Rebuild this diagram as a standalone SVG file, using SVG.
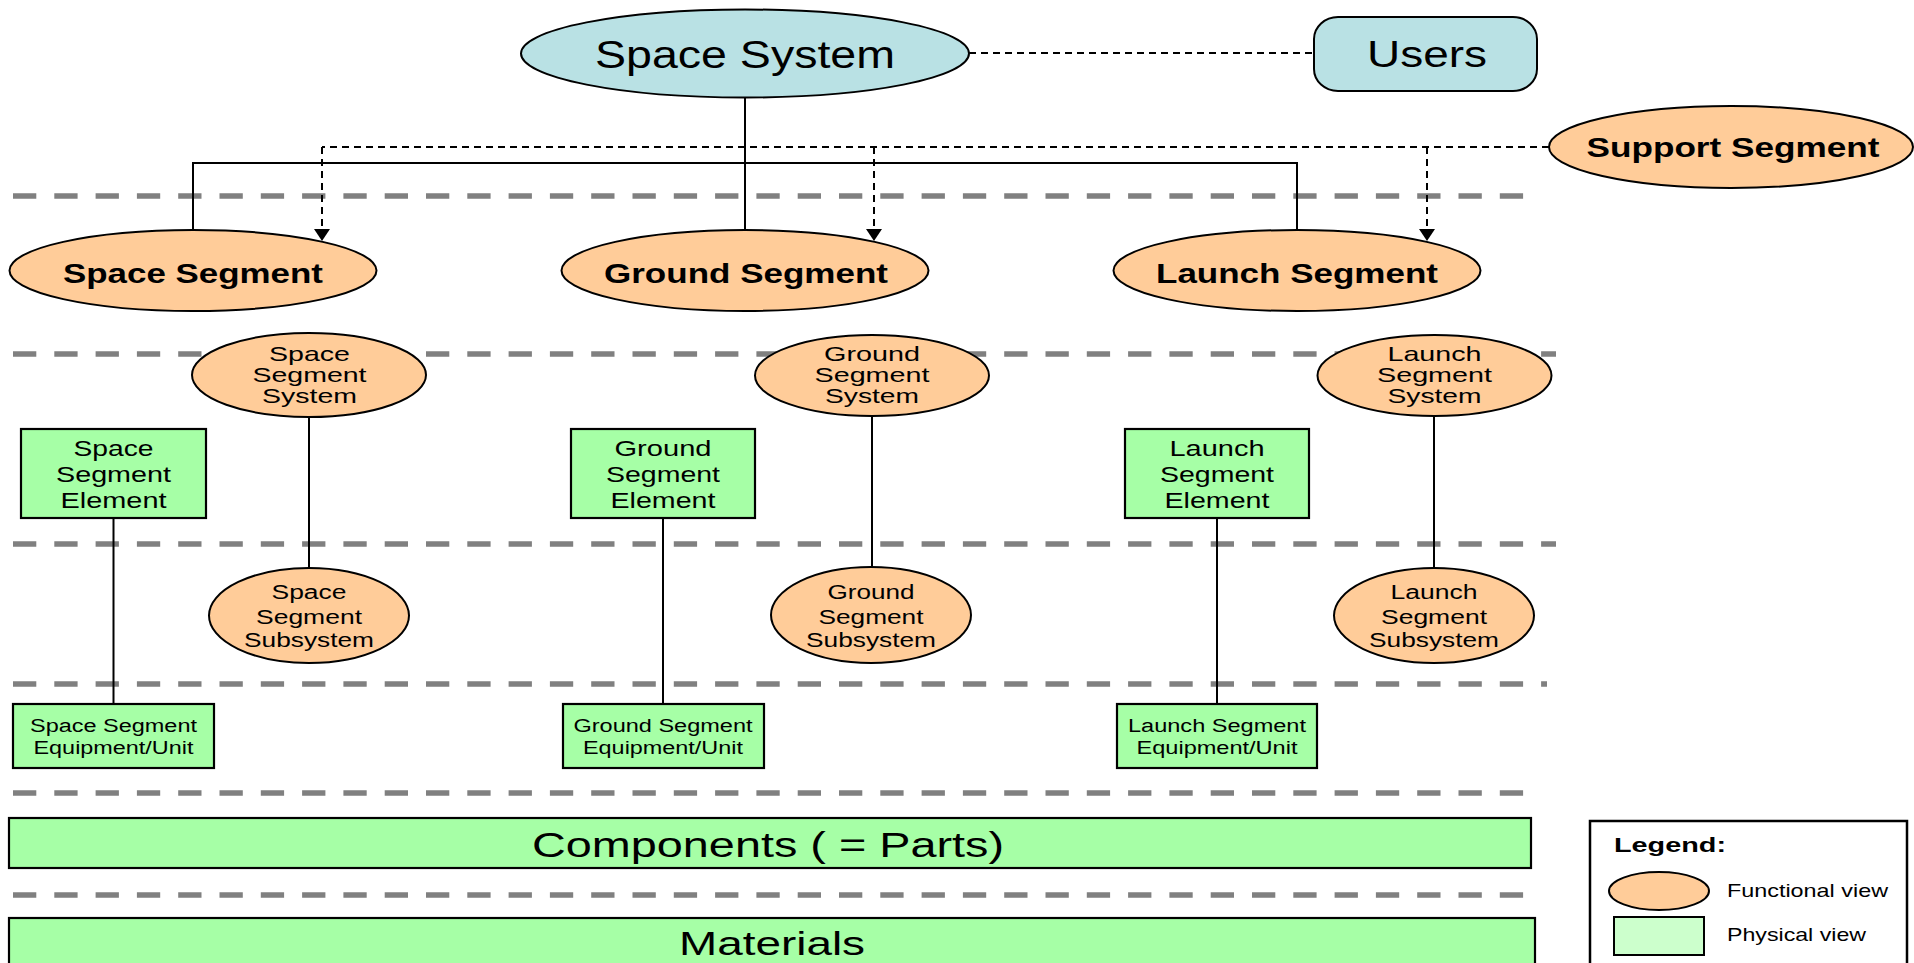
<svg xmlns="http://www.w3.org/2000/svg" width="1914" height="963" viewBox="0 0 1914 963">
<style>
text{font-family:"Liberation Sans",Arial,Helvetica,sans-serif;fill:#000;text-anchor:middle}
.b{font-weight:bold}
.fn{fill:#ffcc99;stroke:#000;stroke-width:2}
.ph{fill:#a6ffa6;stroke:#000;stroke-width:2.2}
.sy{fill:#b9e1e4;stroke:#000;stroke-width:2}
.lvl{stroke:#808080;stroke-width:5.5;stroke-dasharray:23.3 18;fill:none}
.sol{stroke:#000;stroke-width:2;fill:none}
.dot{stroke:#000;stroke-width:2;stroke-dasharray:7 5;fill:none}
.l{text-anchor:start}
</style>
<defs>
<marker id="ah" viewBox="0 0 12 16" refX="12" refY="8" markerWidth="12" markerHeight="16" markerUnits="userSpaceOnUse" orient="auto">
<path d="M0,0 L12,8 L0,16 z" fill="#000"/>
</marker>
</defs>
<rect width="1914" height="963" fill="#fff"/>
<g id="levels">
<path class="lvl" d="M13,196 H1537"/>
<path class="lvl" d="M13,354 H1556"/>
<path class="lvl" d="M13,544 H1556"/>
<path class="lvl" d="M13,684 H1547"/>
<path class="lvl" d="M13,793 H1538"/>
<path class="lvl" d="M13,895 H1535"/>
</g>
<g id="connectors">
<path class="sol" d="M745,98 V230"/>
<path class="sol" d="M193,230 V163 H1297 V230"/>
<path class="sol" d="M309,417 V568"/>
<path class="sol" d="M872,416 V567"/>
<path class="sol" d="M1434,416 V568"/>
<path class="sol" d="M113.5,518 V704"/>
<path class="sol" d="M663,518 V704"/>
<path class="sol" d="M1217,518 V704"/>
<path class="dot" d="M969,53 H1314"/>
<path class="dot" d="M1549,147 H322"/>
<path class="dot" d="M322,147 V241" marker-end="url(#ah)"/>
<path class="dot" d="M874,147 V241" marker-end="url(#ah)"/>
<path class="dot" d="M1427,147 V241" marker-end="url(#ah)"/>
</g>
<g id="space-system">
<ellipse class="sy" cx="745" cy="53.5" rx="224" ry="44"/>
<text x="745" y="68" font-size="38" textLength="300" lengthAdjust="spacingAndGlyphs">Space System</text>
</g>
<g id="users">
<rect class="sy" x="1314" y="17" width="223" height="74" rx="24" ry="22"/>
<text x="1427" y="67" font-size="36" textLength="120" lengthAdjust="spacingAndGlyphs">Users</text>
</g>
<g id="support-segment">
<ellipse class="fn" cx="1731" cy="147" rx="182" ry="41"/>
<text class="b" x="1733" y="157" font-size="28" textLength="293" lengthAdjust="spacingAndGlyphs">Support Segment</text>
</g>
<g id="space-segment">
<ellipse class="fn" cx="193" cy="270.5" rx="183.5" ry="40.5"/>
<text class="b" x="193" y="283" font-size="28" textLength="260" lengthAdjust="spacingAndGlyphs">Space Segment</text>
</g>
<g id="ground-segment">
<ellipse class="fn" cx="745" cy="270.5" rx="183.5" ry="40.5"/>
<text class="b" x="746" y="283" font-size="28" textLength="284" lengthAdjust="spacingAndGlyphs">Ground Segment</text>
</g>
<g id="launch-segment">
<ellipse class="fn" cx="1297" cy="270.5" rx="183.5" ry="40.5"/>
<text class="b" x="1297" y="283" font-size="28" textLength="282" lengthAdjust="spacingAndGlyphs">Launch Segment</text>
</g>
<g id="space-segment-system">
<ellipse class="fn" cx="309" cy="375" rx="117" ry="42"/>
<text x="309.5" y="361" font-size="21" textLength="81" lengthAdjust="spacingAndGlyphs">Space</text>
<text x="309.5" y="382" font-size="21" textLength="114" lengthAdjust="spacingAndGlyphs">Segment</text>
<text x="309.5" y="403" font-size="21" textLength="95" lengthAdjust="spacingAndGlyphs">System</text>
</g>
<g id="ground-segment-system">
<ellipse class="fn" cx="872" cy="375.5" rx="117" ry="40.5"/>
<text x="872" y="361" font-size="21" textLength="96" lengthAdjust="spacingAndGlyphs">Ground</text>
<text x="872" y="382" font-size="21" textLength="115" lengthAdjust="spacingAndGlyphs">Segment</text>
<text x="872" y="403" font-size="21" textLength="94" lengthAdjust="spacingAndGlyphs">System</text>
</g>
<g id="launch-segment-system">
<ellipse class="fn" cx="1434.5" cy="375.5" rx="117" ry="40.5"/>
<text x="1434.5" y="361" font-size="21" textLength="94" lengthAdjust="spacingAndGlyphs">Launch</text>
<text x="1434.5" y="382" font-size="21" textLength="115" lengthAdjust="spacingAndGlyphs">Segment</text>
<text x="1434.5" y="403" font-size="21" textLength="94" lengthAdjust="spacingAndGlyphs">System</text>
</g>
<g id="space-segment-element">
<rect class="ph" x="21" y="429" width="185" height="89"/>
<text x="113.5" y="456" font-size="22" textLength="80" lengthAdjust="spacingAndGlyphs">Space</text>
<text x="113.5" y="482" font-size="22" textLength="115" lengthAdjust="spacingAndGlyphs">Segment</text>
<text x="113.5" y="508" font-size="22" textLength="106" lengthAdjust="spacingAndGlyphs">Element</text>
</g>
<g id="ground-segment-element">
<rect class="ph" x="571" y="429" width="184" height="89"/>
<text x="663" y="456" font-size="22" textLength="97" lengthAdjust="spacingAndGlyphs">Ground</text>
<text x="663" y="482" font-size="22" textLength="114" lengthAdjust="spacingAndGlyphs">Segment</text>
<text x="663" y="508" font-size="22" textLength="105" lengthAdjust="spacingAndGlyphs">Element</text>
</g>
<g id="launch-segment-element">
<rect class="ph" x="1125" y="429" width="184" height="89"/>
<text x="1217" y="456" font-size="22" textLength="95" lengthAdjust="spacingAndGlyphs">Launch</text>
<text x="1217" y="482" font-size="22" textLength="114" lengthAdjust="spacingAndGlyphs">Segment</text>
<text x="1217" y="508" font-size="22" textLength="105" lengthAdjust="spacingAndGlyphs">Element</text>
</g>
<g id="space-segment-subsystem">
<ellipse class="fn" cx="309" cy="615.5" rx="100" ry="47.5"/>
<text x="309" y="599" font-size="20" textLength="75" lengthAdjust="spacingAndGlyphs">Space</text>
<text x="309" y="624" font-size="20" textLength="106" lengthAdjust="spacingAndGlyphs">Segment</text>
<text x="309" y="647" font-size="20" textLength="130" lengthAdjust="spacingAndGlyphs">Subsystem</text>
</g>
<g id="ground-segment-subsystem">
<ellipse class="fn" cx="871" cy="615" rx="100" ry="48"/>
<text x="871" y="599" font-size="20" textLength="87" lengthAdjust="spacingAndGlyphs">Ground</text>
<text x="871" y="624" font-size="20" textLength="105" lengthAdjust="spacingAndGlyphs">Segment</text>
<text x="871" y="647" font-size="20" textLength="130" lengthAdjust="spacingAndGlyphs">Subsystem</text>
</g>
<g id="launch-segment-subsystem">
<ellipse class="fn" cx="1434" cy="615.5" rx="100" ry="47.5"/>
<text x="1434" y="599" font-size="20" textLength="87" lengthAdjust="spacingAndGlyphs">Launch</text>
<text x="1434" y="624" font-size="20" textLength="106" lengthAdjust="spacingAndGlyphs">Segment</text>
<text x="1434" y="647" font-size="20" textLength="130" lengthAdjust="spacingAndGlyphs">Subsystem</text>
</g>
<g id="space-segment-equipment">
<rect class="ph" x="13" y="704" width="201" height="64"/>
<text x="113.5" y="732" font-size="18" textLength="167" lengthAdjust="spacingAndGlyphs">Space Segment</text>
<text x="113.5" y="754" font-size="18" textLength="160" lengthAdjust="spacingAndGlyphs">Equipment/Unit</text>
</g>
<g id="ground-segment-equipment">
<rect class="ph" x="563" y="704" width="201" height="64"/>
<text x="663" y="732" font-size="18" textLength="179" lengthAdjust="spacingAndGlyphs">Ground Segment</text>
<text x="663" y="754" font-size="18" textLength="160" lengthAdjust="spacingAndGlyphs">Equipment/Unit</text>
</g>
<g id="launch-segment-equipment">
<rect class="ph" x="1117" y="704" width="200" height="64"/>
<text x="1217" y="732" font-size="18" textLength="178" lengthAdjust="spacingAndGlyphs">Launch Segment</text>
<text x="1217" y="754" font-size="18" textLength="161" lengthAdjust="spacingAndGlyphs">Equipment/Unit</text>
</g>
<g id="components">
<rect class="ph" x="9" y="818" width="1522" height="50"/>
<text x="768" y="857" font-size="35" textLength="472" lengthAdjust="spacingAndGlyphs">Components ( = Parts)</text>
</g>
<g id="materials">
<rect class="ph" x="9" y="918" width="1526" height="70"/>
<text x="772" y="955" font-size="33" textLength="186" lengthAdjust="spacingAndGlyphs">Materials</text>
</g>
<g id="legend">
<rect x="1590" y="821" width="317" height="170" fill="#fff" stroke="#000" stroke-width="2.5"/>
<text class="b l" x="1614" y="852" font-size="21" textLength="112" lengthAdjust="spacingAndGlyphs">Legend:</text>
<ellipse class="fn" cx="1659" cy="891" rx="50" ry="19"/>
<text class="l" x="1727" y="897" font-size="19" textLength="161" lengthAdjust="spacingAndGlyphs">Functional view</text>
<rect x="1614" y="917" width="90" height="38" fill="#ccffcc" stroke="#000" stroke-width="2"/>
<text class="l" x="1727" y="941" font-size="19" textLength="139" lengthAdjust="spacingAndGlyphs">Physical view</text>
</g>
</svg>
